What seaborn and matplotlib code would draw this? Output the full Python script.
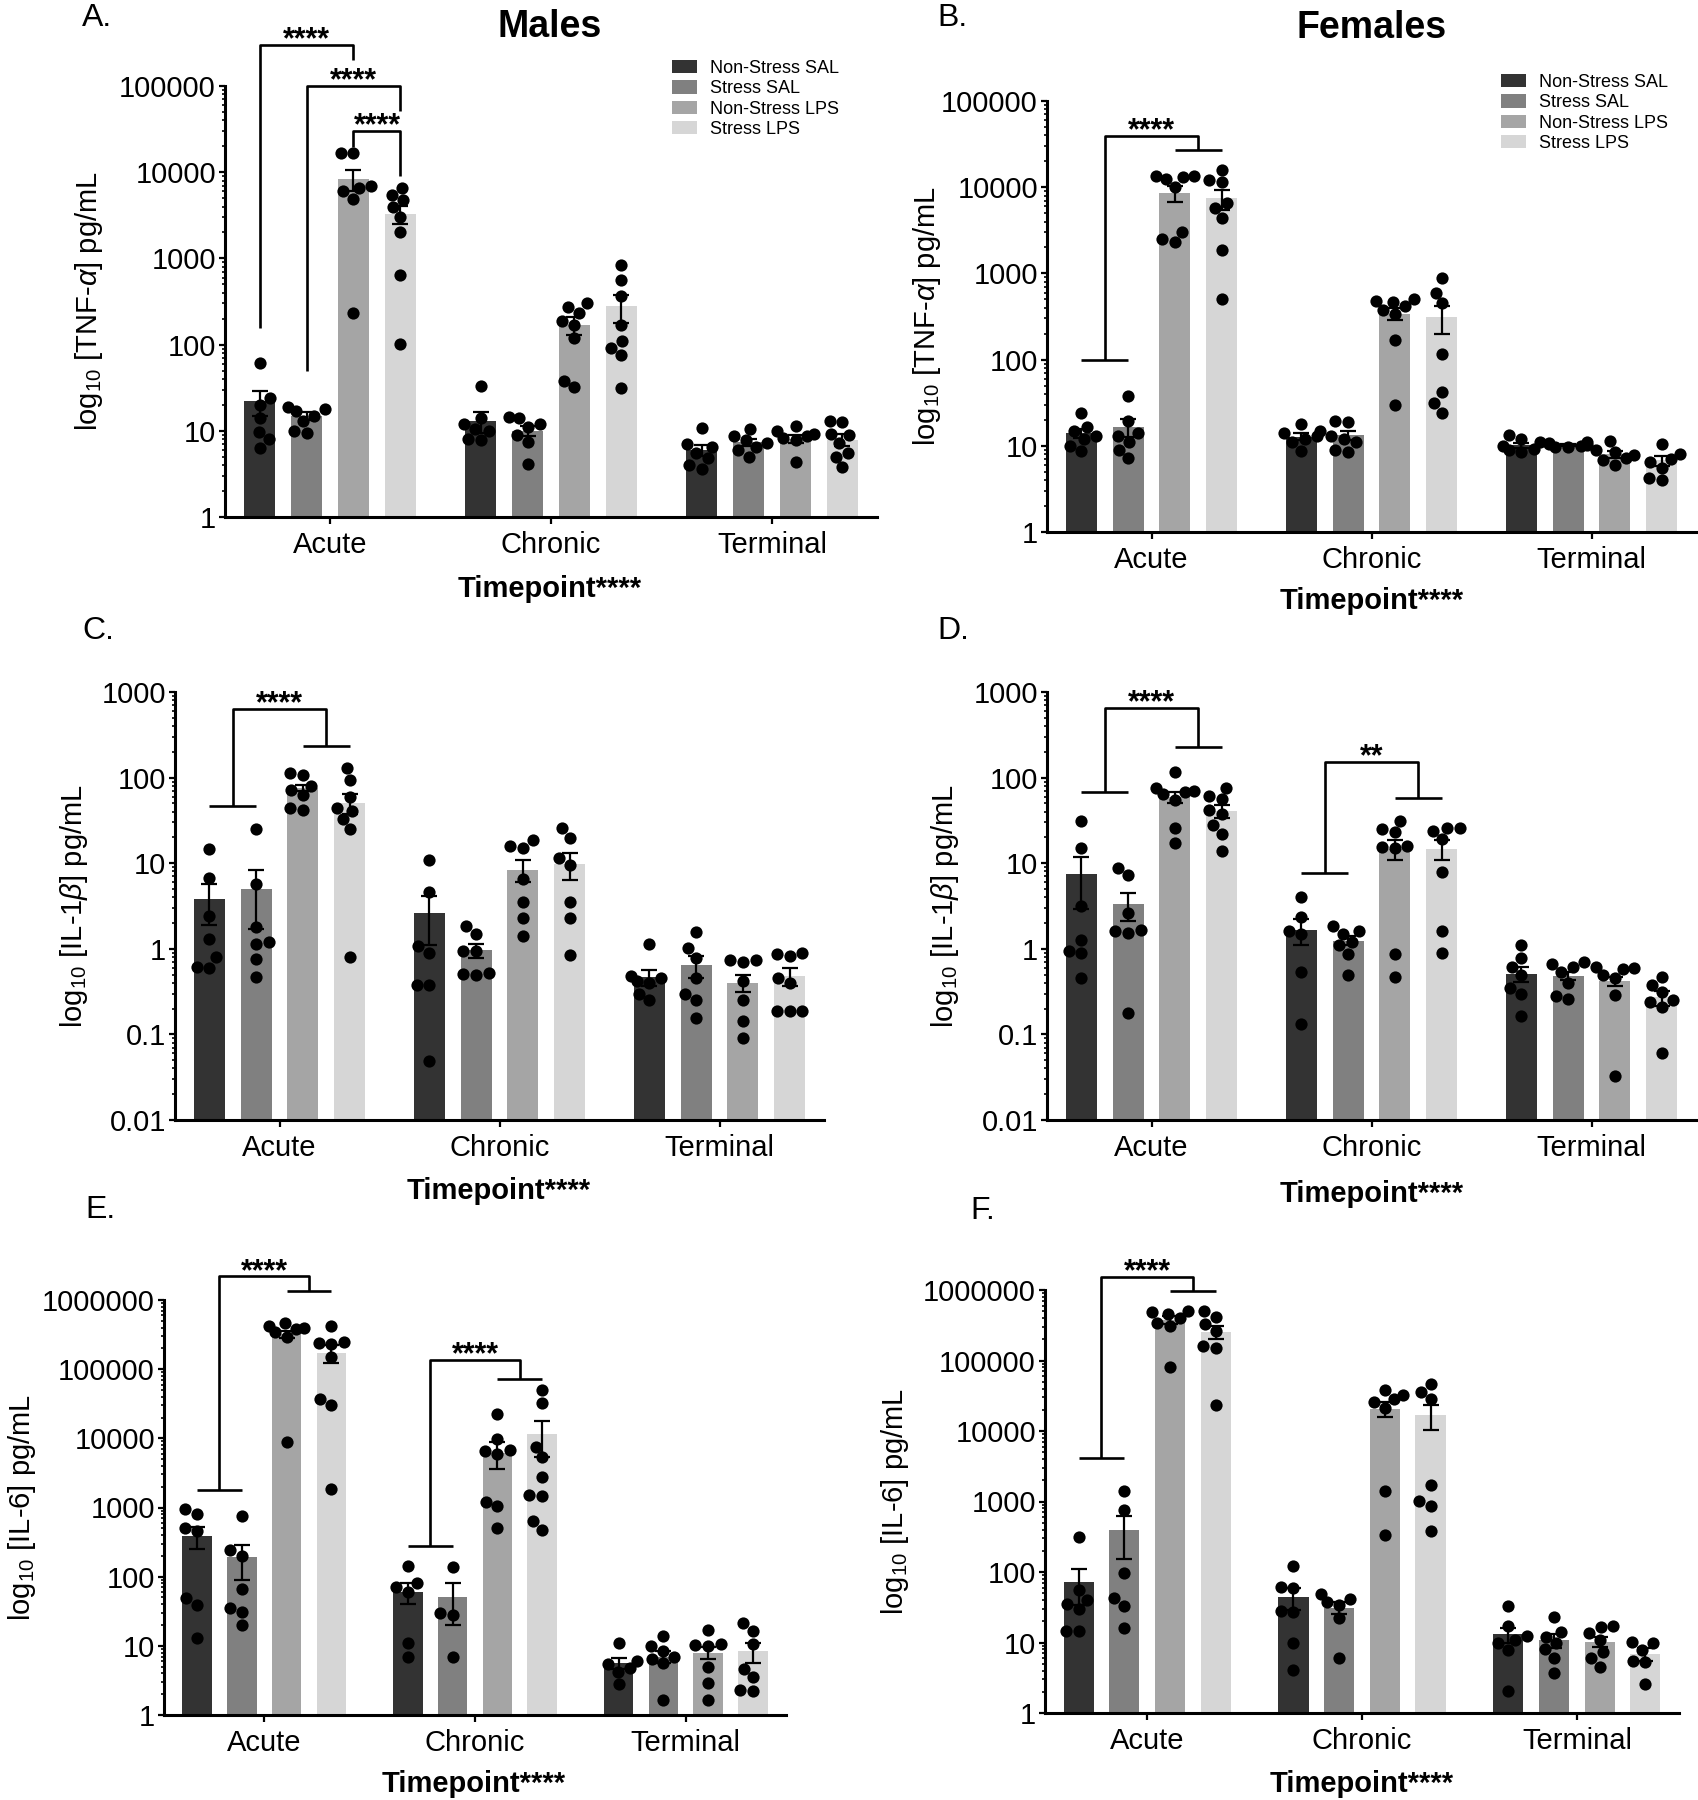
import numpy as np
import pandas as pd
import matplotlib
matplotlib.use("Agg")
import matplotlib.pyplot as plt
import seaborn as sns
from matplotlib.patches import Patch
from matplotlib.ticker import LogLocator, FuncFormatter, NullFormatter

plt.rcParams["font.family"] = ["Liberation Sans", "DejaVu Sans"]
plt.rcParams["mathtext.fontset"] = "custom"
plt.rcParams["mathtext.rm"] = "Liberation Sans"
plt.rcParams["mathtext.it"] = "Liberation Sans:italic"
plt.rcParams["mathtext.bf"] = "Liberation Sans:bold"

# ---------------- data ----------------
timepoints = ["Acute", "Chronic", "Terminal"]
groups = ["Non-Stress SAL", "Stress SAL", "Non-Stress LPS", "Stress LPS"]
colors = ["#333333", "#808080", "#a5a5a5", "#d6d6d6"]

# order of 12 bars: Acute(NS SAL, S SAL, NS LPS, S LPS), Chronic(...), Terminal(...)
a_means = [22, 15, 8400, 3300, 13, 10, 170, 280, 6.0, 7.4, 8.1, 7.9]
a_sems = [7, 1.6, 2300, 800, 3.5, 1.4, 40, 100, 0.9, 0.7, 0.8, 1.2]
a_points = [[61, 24, 20, 14, 9.7, 8, 6.4],
            [19, 18, 17, 15, 13, 10, 9.5],
            [16600, 16600, 7000, 6600, 6000, 4900, 230],
            [6600, 5400, 4700, 3900, 3000, 2000, 640, 101],
            [33, 14, 12, 10.5, 10, 8, 7.8],
            [14.3, 14, 12, 11, 9, 7.5, 4.1],
            [300, 270, 230, 190, 170, 120, 38, 32],
            [840, 555, 370, 170, 110, 92, 75, 31],
            [10.7, 7, 6.5, 5.5, 4.8, 4, 3.6],
            [10.6, 8.8, 7.8, 7.2, 6.5, 6, 5],
            [11.4, 10, 9.3, 8.8, 8.3, 7.8, 4.3],
            [13, 12.5, 9.2, 9, 7.2, 5.6, 5, 3.8]]

b_means = [14, 16.5, 8500, 7400, 12.8, 13.2, 340, 310, 10.2, 10.2, 8.0, 6.8]
b_sems = [1.8, 3.8, 1700, 1900, 1.2, 1.6, 55, 110, 0.7, 0.2, 0.7, 0.9]
b_points = [[24, 16.4, 15, 13, 12, 10, 8.7],
            [38, 19.5, 14, 13, 11, 9, 7.2],
            [13400, 13400, 13000, 12500, 10000, 3000, 2500, 2300],
            [16000, 12000, 11500, 6500, 5800, 4400, 1870, 510],
            [18, 15, 14, 13, 12, 11, 8.7],
            [19.5, 19, 13, 12, 11, 9, 8.5],
            [510, 480, 470, 420, 380, 340, 168, 30],
            [890, 600, 450, 116, 42, 31, 24],
            [13.3, 12, 11, 10, 9.3, 9, 8.4],
            [11, 10.8, 10.5, 10.2, 10, 9.8, 9.6],
            [11.5, 9, 8.5, 7.8, 7.2, 6.8, 6],
            [10.5, 8, 7, 6.5, 5.6, 4.2, 4]]

c_means = [3.8, 5.0, 76, 51, 2.6, 0.97, 8.4, 9.8, 0.47, 0.64, 0.40, 0.48]
c_sems = [1.9, 3.3, 7, 13, 1.5, 0.18, 2.4, 3.5, 0.1, 0.19, 0.09, 0.11]
c_points = [[14.8, 6.7, 2.4, 1.3, 0.8, 0.62, 0.6],
            [24.8, 5.7, 1.8, 1.2, 1.15, 0.75, 0.47],
            [112, 108, 80, 72, 62, 44, 42],
            [128, 93, 59, 44, 41, 33, 25, 0.8],
            [11, 4.6, 1.07, 0.9, 0.38, 0.38, 0.049],
            [1.85, 1.5, 0.95, 0.93, 0.52, 0.51, 0.5],
            [18.5, 15.8, 15.2, 6.6, 3.5, 2.3, 1.4],
            [26, 19.8, 11.5, 9.5, 3.5, 2.3, 0.85],
            [1.13, 0.48, 0.45, 0.42, 0.4, 0.3, 0.25],
            [1.57, 1.02, 0.79, 0.45, 0.3, 0.25, 0.157],
            [0.74, 0.73, 0.7, 0.42, 0.25, 0.145, 0.09],
            [0.9, 0.88, 0.82, 0.45, 0.4, 0.19, 0.19, 0.19]]

d_means = [7.4, 3.3, 59, 41, 1.67, 1.25, 14.8, 14.8, 0.51, 0.48, 0.42, 0.27]
d_sems = [4.5, 1.2, 8, 7, 0.55, 0.15, 3.8, 4, 0.1, 0.05, 0.05, 0.055]
d_points = [[31, 15.2, 3.2, 1.28, 0.95, 0.9, 0.45],
            [8.8, 7.3, 2.6, 1.65, 1.6, 1.55, 0.18],
            [116, 75, 69, 67, 64, 55, 26, 17],
            [76, 61, 56, 42, 38, 28, 22, 14],
            [4.04, 2.38, 1.6, 1.5, 0.54, 0.134],
            [1.86, 1.6, 1.5, 1.2, 1.1, 0.88, 0.49],
            [31, 25, 23, 16, 15.5, 15, 0.88, 0.47],
            [26, 25.5, 24, 19, 7.8, 1.6, 0.9],
            [1.1, 0.79, 0.62, 0.5, 0.35, 0.3, 0.164],
            [0.71, 0.67, 0.62, 0.53, 0.4, 0.28, 0.26],
            [0.62, 0.6, 0.58, 0.5, 0.45, 0.29, 0.033],
            [0.47, 0.38, 0.31, 0.25, 0.24, 0.21, 0.06]]

e_means = [390, 190, 320000, 172000, 60, 50, 6200, 11500, 5.6, 7.0, 8.0, 8.3]
e_sems = [140, 100, 40000, 50000, 20, 30, 2600, 6200, 1.0, 1.3, 1.5, 2.6]
e_points = [[944, 810, 500, 450, 49, 39, 12.8],
            [750, 240, 200, 66, 35, 31, 20],
            [466000, 420000, 400000, 380000, 350000, 290000, 8900],
            [420000, 250000, 240000, 230000, 150000, 37000, 30800, 1840],
            [145, 80, 72, 60, 10.9, 6.8],
            [139, 30, 28, 6.8],
            [22300, 9700, 6800, 6500, 6000, 1220, 1040, 500],
            [50000, 32000, 7600, 5300, 2800, 1500, 1450, 640, 475],
            [10.9, 6, 5.5, 4.8, 4.2, 2.8],
            [13.7, 10, 8.5, 7, 6.5, 5.6, 1.66],
            [17.2, 10.6, 10.2, 9.8, 4.9, 2.9, 1.66],
            [21.3, 16.5, 10.5, 4.6, 3.5, 2.3, 2.2]]

f_means = [73, 390, 380000, 255000, 44, 31, 20700, 16700, 13, 10.7, 10.3, 6.9]
f_sems = [39, 235, 50000, 55000, 15, 6, 4700, 6300, 3, 2.3, 1.6, 1.4]
f_points = [[314, 55, 40, 35, 30, 14.7, 14.5],
            [1410, 750, 96, 42.5, 33, 16],
            [500000, 480000, 460000, 400000, 340000, 310000, 81000],
            [500000, 420000, 330000, 260000, 160000, 150000, 23000],
            [123, 62, 60, 28, 27, 9.7, 4.06],
            [48, 42, 37, 34, 22, 6.1],
            [38600, 32000, 28000, 26000, 21000, 1410, 335],
            [46700, 36300, 28000, 1700, 1030, 855, 380],
            [33, 17, 12.5, 11, 10, 7.8, 2.06],
            [23, 14, 12, 9.7, 8, 6, 3.7],
            [17, 16.5, 13.8, 11, 7.4, 6.1, 4.5],
            [10.1, 9.7, 7.8, 5.5, 5.3, 2.55]]

# significance brackets: (left bars, right bars, top, left-leg bottom, right-leg bottom, label)
# bars given as (timepoint index, group index)
a_brackets = [([(0, 0)], [(0, 2)], 3.0e5, 156, 2.0e5, "****"),
              ([(0, 1)], [(0, 3)], 1.0e5, 49, 5.1e4, "****"),
              ([(0, 2)], [(0, 3)], 3.0e4, 1.96e4, 9.0e3, "****")]
b_brackets = [([(0, 0), (0, 1)], [(0, 2), (0, 3)], 3.95e4, 99, 2.67e4, "****")]
c_brackets = [([(0, 0), (0, 1)], [(0, 2), (0, 3)], 630, 47, 237, "****")]
d_brackets = [([(0, 0), (0, 1)], [(0, 2), (0, 3)], 650, 67.6, 230, "****"),
              ([(1, 0), (1, 1)], [(1, 2), (1, 3)], 152, 7.6, 57, "**")]
e_brackets = [([(0, 0), (0, 1)], [(0, 2), (0, 3)], 2.2e6, 1800, 1.37e6, "****"),
              ([(1, 0), (1, 1)], [(1, 2), (1, 3)], 1.37e5, 281, 7.2e4, "****")]
f_brackets = [([(0, 0), (0, 1)], [(0, 2), (0, 3)], 1.55e6, 4180, 9.73e5, "****")]

# ---------------- figure ----------------
W, H = 1698, 1800
fig = plt.figure(figsize=(W / 100, H / 100), dpi=100)


def rect(l, r, t, b):
    return [l / W, 1 - b / H, (r - l) / W, (b - t) / H]


def fmt(v, pos):
    return f"{v:g}" if v < 1 else f"{int(round(v))}"


def draw_panel(ax, means, sems, points, ylim, ylabel, brackets, ylabel_x):
    ax.set_yscale("log")
    bars = pd.DataFrame({"Timepoint": np.repeat(timepoints, 4),
                         "Group": np.tile(groups, 3),
                         "value": means})
    sns.barplot(data=bars, x="Timepoint", y="value", hue="Group",
                order=timepoints, hue_order=groups, palette=colors,
                saturation=1, width=0.85, gap=0.34, errorbar=None,
                legend=False, ax=ax, linewidth=0, zorder=1)
    centers = np.zeros((3, 4))
    for hi, cont in enumerate(ax.containers):
        ps = sorted(cont.patches, key=lambda p: p.get_x())
        for ti, p in enumerate(ps):
            centers[ti, hi] = p.get_x() + p.get_width() / 2
    xs = centers.ravel()
    ax.errorbar(xs, means, yerr=sems, fmt="none", ecolor="black",
                elinewidth=1.6, capsize=6, capthick=1.6, zorder=3)
    px = np.concatenate([[xs[i]] * len(p) for i, p in enumerate(points)])
    py = np.concatenate([np.asarray(p, float) for p in points])
    sns.swarmplot(x=px, y=py, native_scale=True, orient="x", color="black",
                  size=8.8, linewidth=0, ax=ax, zorder=4, warn_thresh=1,
                  legend=False)
    for lb, rb, top, yl, yr, lab in brackets:
        xl = np.mean([centers[t, g] for t, g in lb])
        xr = np.mean([centers[t, g] for t, g in rb])
        kw = dict(color="black", lw=1.9, clip_on=False, zorder=5,
                  solid_capstyle="butt")
        ax.plot([xl, xl, xr, xr], [yl, top, top, yr], **kw)
        if len(lb) > 1:
            ax.plot([centers[lb[0]], centers[lb[-1]]], [yl, yl], **kw)
        if len(rb) > 1:
            ax.plot([centers[rb[0]], centers[rb[-1]]], [yr, yr], **kw)
        ax.annotate(lab, xy=((xl + xr) / 2, top), xytext=(0, -2.5),
                    textcoords="offset points", ha="center", va="baseline",
                    fontsize=22, fontweight="bold", annotation_clip=False)
    ax.set_xlim(-0.475, 2.475)
    ax.set_ylim(*ylim)
    ax.set_xticks([0, 1, 2])
    ax.set_xticklabels(timepoints)
    ax.yaxis.set_major_locator(LogLocator(base=10, numticks=20))
    ax.yaxis.set_major_formatter(FuncFormatter(fmt))
    ax.yaxis.set_minor_locator(LogLocator(base=10, subs=np.arange(2, 10), numticks=20))
    ax.yaxis.set_minor_formatter(NullFormatter())
    ax.set_xlabel("")
    ax.set_ylabel("")
    ax.text(ylabel_x, 0.5, ylabel, transform=ax.transAxes, rotation=90,
            ha="center", va="center", fontsize=21)
    for s in ["top", "right"]:
        ax.spines[s].set_visible(False)
    for s in ["left", "bottom"]:
        ax.spines[s].set_linewidth(2.2)
    ax.tick_params(axis="x", length=5, width=1.6, labelsize=21, pad=5)
    ax.tick_params(axis="y", which="major", length=4.5, width=1.6,
                   labelsize=21, pad=2)
    ax.tick_params(axis="y", which="minor", length=2.5, width=1.2)
    ax.set_facecolor("none")


tnf = r"log$_\mathrm{10}$ [TNF-$\alpha$] pg/mL"
il1 = r"log$_\mathrm{10}$ [IL-1$\beta$] pg/mL"
il6 = r"log$_\mathrm{10}$ [IL-6] pg/mL"

panels = [
    # letter, rect (l, r, t, b), data, ylim, ylabel, brackets, ylabel x, letter pos, timepoint-label pos
    ("A.", (225, 877, 86, 517), a_means, a_sems, a_points, (1, 1e5), tnf, a_brackets, -0.208, (82, 18), (550, 589)),
    ("B.", (1047, 1696, 101, 532), b_means, b_sems, b_points, (1, 1e5), tnf, b_brackets, -0.185, (937, 18), (1372, 601)),
    ("C.", (175, 824, 692, 1120), c_means, c_sems, c_points, (0.01, 1000), il1, c_brackets, -0.156, (82, 631), (499, 1191)),
    ("D.", (1047, 1696, 692, 1120), d_means, d_sems, d_points, (0.01, 1000), il1, d_brackets, -0.157, (937, 631), (1372, 1194)),
    ("E.", (164, 786, 1300, 1715), e_means, e_sems, e_points, (1, 1e6), il6, e_brackets, -0.228, (85, 1210), (474, 1784)),
    ("F.", (1045, 1679, 1290, 1713), f_means, f_sems, f_points, (1, 1e6), il6, f_brackets, -0.237, (970, 1211), (1362, 1784)),
]

for (letter, r, m, s, p, yl, ylab, br, ylx, lpos, tpos) in panels:
    ax = fig.add_axes(rect(*r))
    draw_panel(ax, m, s, p, yl, ylab, br, ylx)
    fig.text(lpos[0] / W, 1 - lpos[1] / H, letter, fontsize=23,
             ha="left", va="center")
    fig.text(tpos[0] / W, 1 - tpos[1] / H, "Timepoint****", fontsize=21,
             fontweight="bold", ha="center", va="center")

fig.text(550 / W, 1 - 27 / H, "Males", fontsize=27, fontweight="bold",
         ha="center", va="center")
fig.text(1372 / W, 1 - 28 / H, "Females", fontsize=27, fontweight="bold",
         ha="center", va="center")

handles = [Patch(facecolor=c, edgecolor="none") for c in colors]
for (lx, ly) in [(672, 60), (1501, 74)]:
    fig.legend(handles, groups, loc="upper left",
               bbox_to_anchor=(lx / W, 1 - ly / H), frameon=False,
               fontsize=13, handlelength=1.4, handleheight=0.75,
               handletextpad=0.7, labelspacing=0.18, borderpad=0,
               borderaxespad=0)

fig.savefig("out.png", dpi=100, facecolor="white")
